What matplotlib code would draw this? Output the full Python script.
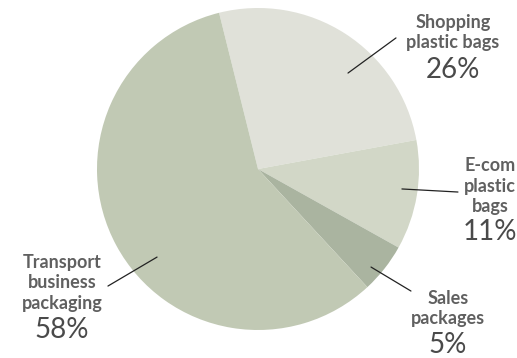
import matplotlib.pyplot as plt

# Доли упаковки по типам
categories = ['Shopping\nplastic bags', 'E-com\nplastic\nbags', 'Sales\npackages', 'Transport\nbusiness\npackaging']
shares = [26, 11, 5, 58]
colors = ['#e0e1d9', '#d2d7c7', '#aab4a0', '#c1c9b4']

# Выноски: начало линии в секторе, конец линии, центр подписи и процента (в радиусах)
line_start = [(0.559, 0.596), (0.894, -0.124), (0.702, -0.609), (-0.627, -0.547)]
line_end = [(0.857, 0.814), (1.242, -0.143), (0.950, -0.758), (-0.932, -0.727)]
label_pos = [(1.211, 0.845), (1.441, -0.106), (1.180, -0.866), (-1.217, -0.708)]
pct_pos = [(1.211, 0.615), (1.441, -0.391), (1.180, -1.093), (-1.217, -1.000)]

W, H = 517, 358
cx, cy, R = 258, 169, 161

fig = plt.figure(figsize=(W / 100, H / 100), dpi=100)
ax = fig.add_axes([0, 0, 1, 1])
ax.pie(shares, colors=colors, startangle=104, counterclock=False,
       wedgeprops=dict(linewidth=0))
ax.set_aspect('auto')
ax.set_xlim(-cx / R, (W - cx) / R)
ax.set_ylim(-(H - cy) / R, cy / R)
ax.axis('off')

for i in range(len(shares)):
    ax.annotate('', xy=line_start[i], xytext=line_end[i],
                arrowprops=dict(arrowstyle='-', color='#222222', lw=0.9,
                                shrinkA=0, shrinkB=0))
    ax.text(*label_pos[i], categories[i], ha='center', va='center',
            fontsize=13, family='Lato', weight='bold', color='#606060',
            linespacing=1.22)
    ax.text(*pct_pos[i], f'{shares[i]}%', ha='center', va='center',
            fontsize=20, family='Lato', weight='normal', color='#4a4a4a')

fig.savefig('out.png', dpi=100)
